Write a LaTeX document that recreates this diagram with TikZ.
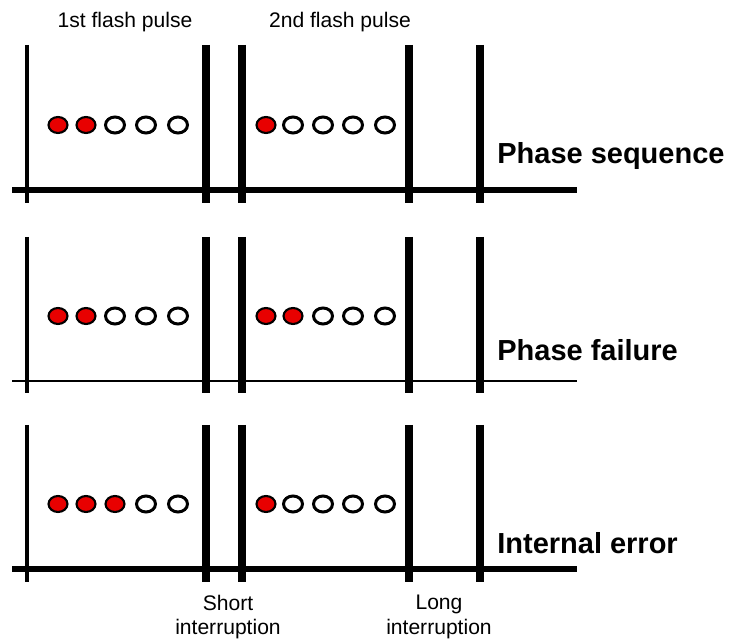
\documentclass[tikz,border=0pt]{standalone}
\usepackage{fontspec}
\setmainfont{Liberation Sans}
\definecolor{lampred}{RGB}{232,0,0}

\begin{document}
\begin{tikzpicture}[x=0.02cm, y=-0.02cm,
    bar/.style={line width=4.2pt},
    thinbar/.style={line width=2.4pt},
    lampon/.style={draw=black, line width=1.2pt, fill=lampred},
    lampoff/.style={draw=black, line width=1.7pt, fill=white},
    caption/.style={font=\fontsize{12}{14}\selectfont, inner sep=0pt},
    rowlabel/.style={font=\fontsize{16.5}{18}\selectfont\bfseries, inner sep=0pt, anchor=west}]
  \useasboundingbox (0,0) rectangle (745,641);

  % pulse captions
  \node[caption] (pulse1) at (125,22) {1st flash pulse};
  \node[caption] (pulse2) at (340,22) {2nd flash pulse};

  % one strip per signal
  \foreach \yt/\ya/\yb/\yc/\aw/\lab/\ly/\na/\nb [count=\r] in
     {45/190/203/125/3.4pt/Phase sequence/156/2/1,
      237/381/393/316/1.7pt/Phase failure/350/2/2,
      425/569/582/504/3.4pt/Internal error/543/3/1}
  {
    \draw[line width=\aw] (12,\ya) -- (577,\ya);
    \draw[thinbar] (27,\yt) -- (27,\yb);
    \foreach \x in {206,242,409,480}
      \draw[bar] (\x,\yt) -- (\x,\yb);
    \foreach \i/\x in {1/58,2/86,3/115,4/146,5/178}
      {\ifnum\i>\na \draw[lampoff] (\x,\yc) ellipse [x radius=9.5, y radius=8];
       \else \draw[lampon] (\x,\yc) ellipse [x radius=9.5, y radius=8]; \fi}
    \foreach \i/\x in {1/266,2/293,3/323,4/353,5/385}
      {\ifnum\i>\nb \draw[lampoff] (\x,\yc) ellipse [x radius=9.5, y radius=8];
       \else \draw[lampon] (\x,\yc) ellipse [x radius=9.5, y radius=8]; \fi}
    \node[rowlabel] (label\r) at (497,\ly) {\lab};
  }

  % interruptions
  \node[caption, align=center] (short) at (228,617) {Short\\interruption};
  \node[caption, align=center] (long) at (439,617) {Long\\interruption};
\end{tikzpicture}
\end{document}
